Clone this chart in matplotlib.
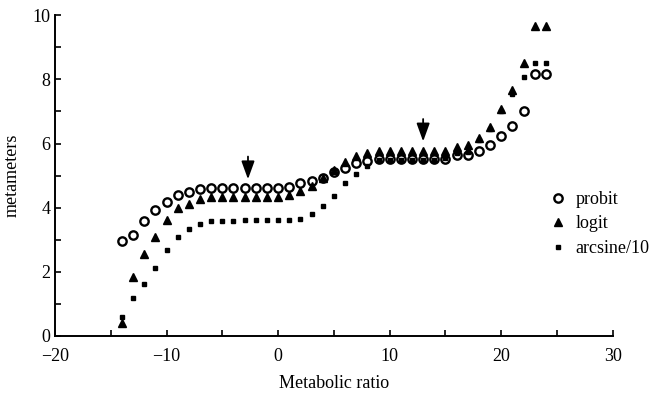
import numpy as np
import matplotlib
matplotlib.use("Agg")
import matplotlib.pyplot as plt
from matplotlib.ticker import MultipleLocator

# Metabolic ratio values (x) and metameters for each transform
ratio = list(range(-14, 25))

probit = [2.97, 3.14, 3.59, 3.93, 4.18, 4.39, 4.49, 4.57, 4.62, 4.62, 4.62, 4.60, 4.60,
          4.60, 4.60, 4.65, 4.76, 4.84, 4.94, 5.10, 5.24, 5.38, 5.47, 5.51, 5.51,
          5.51, 5.51, 5.51, 5.51, 5.51, 5.64, 5.64, 5.77, 5.95, 6.23, 6.54, 7.01,
          8.18, 8.18]

logit = [0.40, 1.83, 2.55, 3.09, 3.63, 3.98, 4.13, 4.26, 4.34, 4.34, 4.34, 4.34, 4.34,
         4.34, 4.34, 4.39, 4.52, 4.67, 4.93, 5.17, 5.41, 5.61, 5.71, 5.77, 5.77,
         5.77, 5.77, 5.77, 5.77, 5.77, 5.88, 5.95, 6.16, 6.52, 7.07, 7.66, 8.51,
         9.67, 9.67]

arcsine = [0.58, 1.17, 1.63, 2.13, 2.68, 3.09, 3.34, 3.49, 3.60, 3.60, 3.60, 3.61, 3.61,
           3.61, 3.61, 3.61, 3.65, 3.81, 4.06, 4.36, 4.76, 5.05, 5.30, 5.50, 5.50,
           5.50, 5.50, 5.50, 5.50, 5.55, 5.70, 5.75, 6.10, 6.45, 7.00, 7.55, 8.08,
           8.50, 8.50]

# arrows: (x, tip y, tail y)
arrows = [(-2.7, 4.80, 5.68), (13.0, 5.98, 6.85)]

plt.rcParams['font.family'] = ['Liberation Serif', 'DejaVu Serif']

fig = plt.figure(figsize=(6.57, 3.97), dpi=100)
ax = fig.add_axes([0.0837, 0.1537, 0.849, 0.808])

ax.plot(ratio, probit, 'o', mfc='white', mec='black', mew=1.7, ms=6,
        linestyle='none', label='probit')
ax.plot(ratio, logit, '^', color='black', ms=6, linestyle='none', label='logit')
ax.plot(ratio, arcsine, 's', mfc='black', mec='black', ms=3.3,
        linestyle='none', label='arcsine/10')

for x, tip, tail in arrows:
    ax.annotate('', xy=(x, tip), xytext=(x, tail),
                arrowprops=dict(arrowstyle='-|>,head_width=0.4,head_length=1.1',
                                color='black', lw=1.3))

ax.set_xlim(-20, 30)
ax.set_ylim(0, 10)
ax.xaxis.set_major_locator(MultipleLocator(10))
ax.xaxis.set_minor_locator(MultipleLocator(5))
ax.yaxis.set_major_locator(MultipleLocator(2))
ax.yaxis.set_minor_locator(MultipleLocator(1))
ax.tick_params(which='both', direction='in', length=4, width=1.2, labelsize=13)
ax.tick_params(axis='x', pad=9)
ax.spines['top'].set_visible(False)
ax.spines['right'].set_visible(False)
ax.spines['left'].set_linewidth(1.4)
ax.spines['bottom'].set_linewidth(1.4)

ax.set_xlabel('Metabolic ratio', fontsize=13, labelpad=7)
ax.set_ylabel('metameters', fontsize=13, labelpad=8)

ax.legend(loc='upper left', bbox_to_anchor=(0.875, 0.475), frameon=False,
          fontsize=13, handlelength=0.8, handletextpad=0.6, labelspacing=0.42,
          borderaxespad=0)

fig.savefig('out.png', dpi=100)
